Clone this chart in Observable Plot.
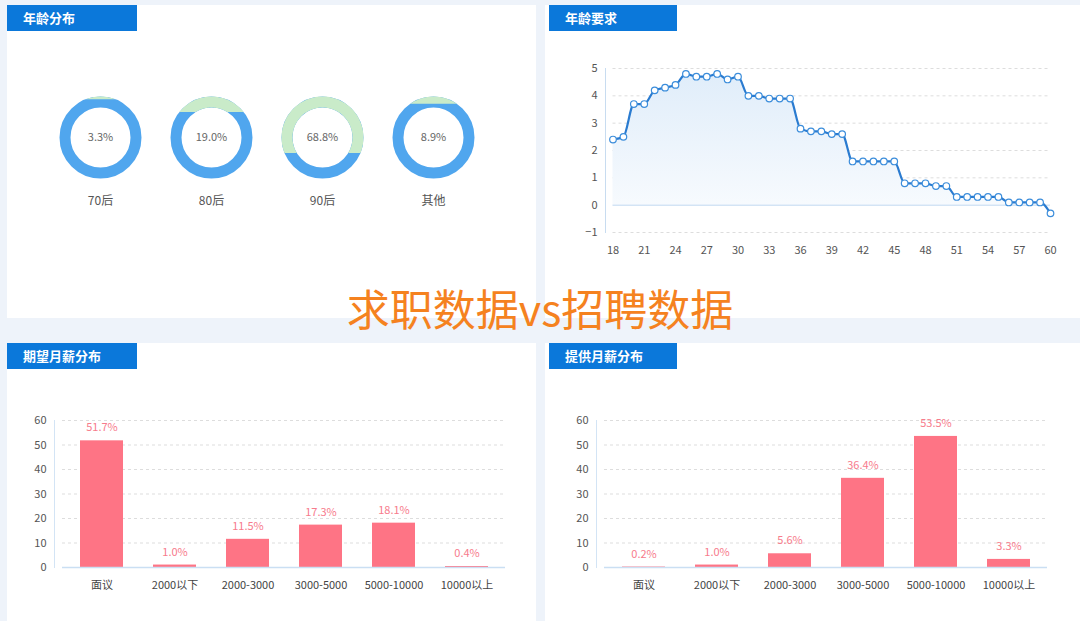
<!DOCTYPE html>
<html><head><meta charset="utf-8">
<script src="https://cdn.jsdelivr.net/npm/d3@7"></script>
<script src="https://cdn.jsdelivr.net/npm/@observablehq/plot@0.6"></script>
<style>
body{margin:0;width:1080px;height:621px;overflow:hidden;background:#eef3fa;font-family:"Noto Sans CJK SC","Noto Sans",sans-serif;position:relative}
.panel{position:absolute;background:#fff}
.hdr{position:absolute;background:#0b78da;color:#fff;font-size:13px;font-weight:bold;line-height:26px;height:26px;padding-left:16px;box-sizing:border-box}
.chart{position:absolute}
#title{position:absolute;left:0;width:1080px;top:286px;text-align:center;color:#f5821f;font-size:43px;line-height:43px;white-space:nowrap}
</style>
</head><body>
<div class="panel" style="left:7px;top:5px;width:529px;height:313px"></div>
<div class="panel" style="left:545px;top:5px;width:535px;height:313px"></div>
<div class="panel" style="left:7px;top:343px;width:529px;height:278px"></div>
<div class="panel" style="left:545px;top:343px;width:535px;height:278px"></div>
<div class="hdr" style="left:7px;top:5px;width:130px">年龄分布</div>
<div class="hdr" style="left:549px;top:5px;width:128px">年龄要求</div>
<div class="hdr" style="left:7px;top:343px;width:130px">期望月薪分布</div>
<div class="hdr" style="left:549px;top:343px;width:128px">提供月薪分布</div>
<div class="chart" id="donuts" style="left:0px;top:56px"></div>
<div class="chart" id="ageLine" style="left:545px;top:40px"></div>
<div class="chart" id="barLeft" style="left:7px;top:380px"></div>
<div class="chart" id="barRight" style="left:545px;top:380px"></div>
<div id="title">求职数据vs招聘数据</div>
<script>
// ---- data ----
const ageGroups = ["70后", "80后", "90后", "其他"];
const agePct = [3.3, 19.0, 68.8, 8.9];

const ages = [18,19,20,21,22,23,24,25,26,27,28,29,30,31,32,33,34,35,36,37,38,39,40,41,42,43,44,45,46,47,48,49,50,51,52,53,54,55,56,57,58,59,60];
const ageReq = [2.4,2.5,3.7,3.7,4.2,4.3,4.4,4.8,4.7,4.7,4.8,4.6,4.7,4.0,4.0,3.9,3.9,3.9,2.8,2.7,2.7,2.6,2.6,1.6,1.6,1.6,1.6,1.6,0.8,0.8,0.8,0.7,0.7,0.3,0.3,0.3,0.3,0.3,0.1,0.1,0.1,0.1,-0.3];
const ageXTicks = [18,21,24,27,30,33,36,39,42,45,48,51,54,57,60];
const ageYTicks = [-1,0,1,2,3,4,5];

const salaryCats = ["面议", "2000以下", "2000-3000", "3000-5000", "5000-10000", "10000以上"];
const expectedPct = [51.7, 1.0, 11.5, 17.3, 18.1, 0.4];
const offeredPct = [0.2, 1.0, 5.6, 36.4, 53.5, 3.3];
const barYTicks = [0,10,20,30,40,50,60];

const FONT = '"Noto Sans CJK SC","Noto Sans",sans-serif';

// ---- donuts ----
const R_IN = 30 / 41;
function capPolygon(p) {
  // part of the annulus above the level c (liquid-fill style, top portion = p)
  const c = 1 - 2 * p;
  const pts = [];
  const n = 60;
  if (c >= R_IN) {
    const t0 = Math.asin(Math.min(1, c));
    for (let i = 0; i <= n; i++) { const t = t0 + (Math.PI - 2 * t0) * i / n; pts.push([Math.cos(t), Math.sin(t)]); }
  } else {
    const t0 = Math.asin(c), f0 = Math.asin(c / R_IN);
    for (let i = 0; i <= n; i++) { const t = t0 + (Math.PI - 2 * t0) * i / n; pts.push([Math.cos(t), Math.sin(t)]); }
    for (let i = 0; i <= n; i++) { const t = (Math.PI - f0) - (Math.PI - 2 * f0) * i / n; pts.push([R_IN * Math.cos(t), R_IN * Math.sin(t)]); }
  }
  return pts;
}
const donutData = ageGroups.map((g, i) => ({g, p: agePct[i]}));
const capData = donutData.flatMap(d => capPolygon(d.p / 100).map(([x, y]) => ({g: d.g, x, y})));

const donuts = Plot.plot({
  width: 516, height: 166,
  marginLeft: 58, marginRight: 42, marginTop: 40, marginBottom: 44,
  style: {fontFamily: FONT, fontSize: "12px", color: "#555", background: "transparent"},
  fx: {domain: ageGroups, paddingInner: 0.263, paddingOuter: 0},
  x: {domain: [-1, 1], axis: null},
  y: {domain: [-1, 1], axis: null},
  marks: [
    Plot.dot(donutData, {fx: "g", x: 0, y: 0, r: 35.5, stroke: "#50a6ee", strokeWidth: 11, fill: "none"}),
    Plot.line(capData, {fx: "g", x: "x", y: "y", z: "g", fill: "#c9ebc9", stroke: "none", curve: "linear-closed"}),
    Plot.text(donutData, {fx: "g", x: 0, y: 0, text: d => d.p.toFixed(1) + "%", fill: "#666", fontSize: 11}),
    Plot.axisFx({anchor: "bottom", tickSize: 0, tickPadding: 18, label: null, fill: "#555", fontSize: 12})
  ]
});
document.getElementById("donuts").append(donuts);

// ---- age requirement line ----
const ageData = ages.map((a, i) => ({age: a, v: ageReq[i]}));
const gradDefs = () => {
  const d = d3.create("svg:defs");
  const g = d.append("linearGradient").attr("id", "ageGrad").attr("x1", 0).attr("y1", 0).attr("x2", 0).attr("y2", 1);
  g.append("stop").attr("offset", "0%").attr("stop-color", "#e0edfa");
  g.append("stop").attr("offset", "100%").attr("stop-color", "#f8fbfe");
  return d.node();
};
const ageLine = Plot.plot({
  width: 535, height: 222,
  marginLeft: 60, marginRight: 30, marginTop: 28, marginBottom: 30,
  style: {fontFamily: FONT, fontSize: "11px", color: "#555", background: "transparent"},
  x: {domain: [ages[0], ages[ages.length - 1]], insetLeft: 7.5},
  y: {domain: [ageYTicks[0], ageYTicks[ageYTicks.length - 1]]},
  marks: [
    gradDefs,
    Plot.ruleY(ageYTicks.filter(t => t !== 0), {x1: ages[0], x2: ages[ages.length - 1], stroke: "#dddddd", strokeDasharray: "3,3"}),
    Plot.areaY(ageData, {x: "age", y1: 0, y2: "v", fill: "url(#ageGrad)", curve: "monotone-x"}),
    Plot.ruleY([0], {x1: ages[0], x2: ages[ages.length - 1], stroke: "#d3e4f5", strokeWidth: 1.5}),
    Plot.lineY(ageData, {x: "age", y: "v", stroke: "#2a7bd0", strokeWidth: 2.2, curve: "monotone-x"}),
    Plot.dot(ageData, {x: "age", y: "v", r: 3.3, fill: "white", stroke: "#3b8ddb", strokeWidth: 1.2}),
    Plot.frame({anchor: "left", stroke: "#c8dcf0"}),
    Plot.axisY({ticks: ageYTicks, tickFormat: d3.format("d"), tickSize: 0, tickPadding: 8, label: null, fill: "#555"}),
    Plot.axisX({ticks: ageXTicks, tickFormat: d3.format("d"), tickSize: 0, tickPadding: 14, label: null, fill: "#555"})
  ]
});
document.getElementById("ageLine").append(ageLine);

// ---- salary bars ----
function barChart(values, marginLeft, width) {
  const data = salaryCats.map((c, i) => ({cat: c, v: values[i]}));
  return Plot.plot({
    width, height: 227,
    marginLeft, marginRight: width - marginLeft - 451, marginTop: 40, marginBottom: 40,
    style: {fontFamily: FONT, fontSize: "11px", color: "#555", background: "transparent"},
    x: {domain: salaryCats, paddingInner: 0.417, paddingOuter: 0.2085, insetLeft: 8},
    y: {domain: [barYTicks[0], barYTicks[barYTicks.length - 1]]},
    marks: [
      Plot.ruleY(barYTicks.filter(t => t > 0), {stroke: "#dddddd", strokeDasharray: "3,3", insetLeft: 8}),
      Plot.barY(data, {x: "cat", y: "v", fill: "#fe7485"}),
      Plot.ruleY([0], {stroke: "#cadff3", strokeWidth: 1.5, insetLeft: 8}),
      Plot.frame({anchor: "left", stroke: "#d3e4f5"}),
      Plot.text(data, {x: "cat", y: "v", text: d => d.v.toFixed(1) + "%", dy: -13, fill: "#f77b8c", fontSize: 11}),
      Plot.axisY({ticks: barYTicks, tickFormat: d3.format("d"), tickSize: 0, tickPadding: 8, label: null, fill: "#555"}),
      Plot.axisX({tickSize: 0, tickPadding: 14, label: null, fill: "#444"})
    ]
  });
}
document.getElementById("barLeft").append(barChart(expectedPct, 47, 518));
document.getElementById("barRight").append(barChart(offeredPct, 51, 522));
</script>
</body></html>
